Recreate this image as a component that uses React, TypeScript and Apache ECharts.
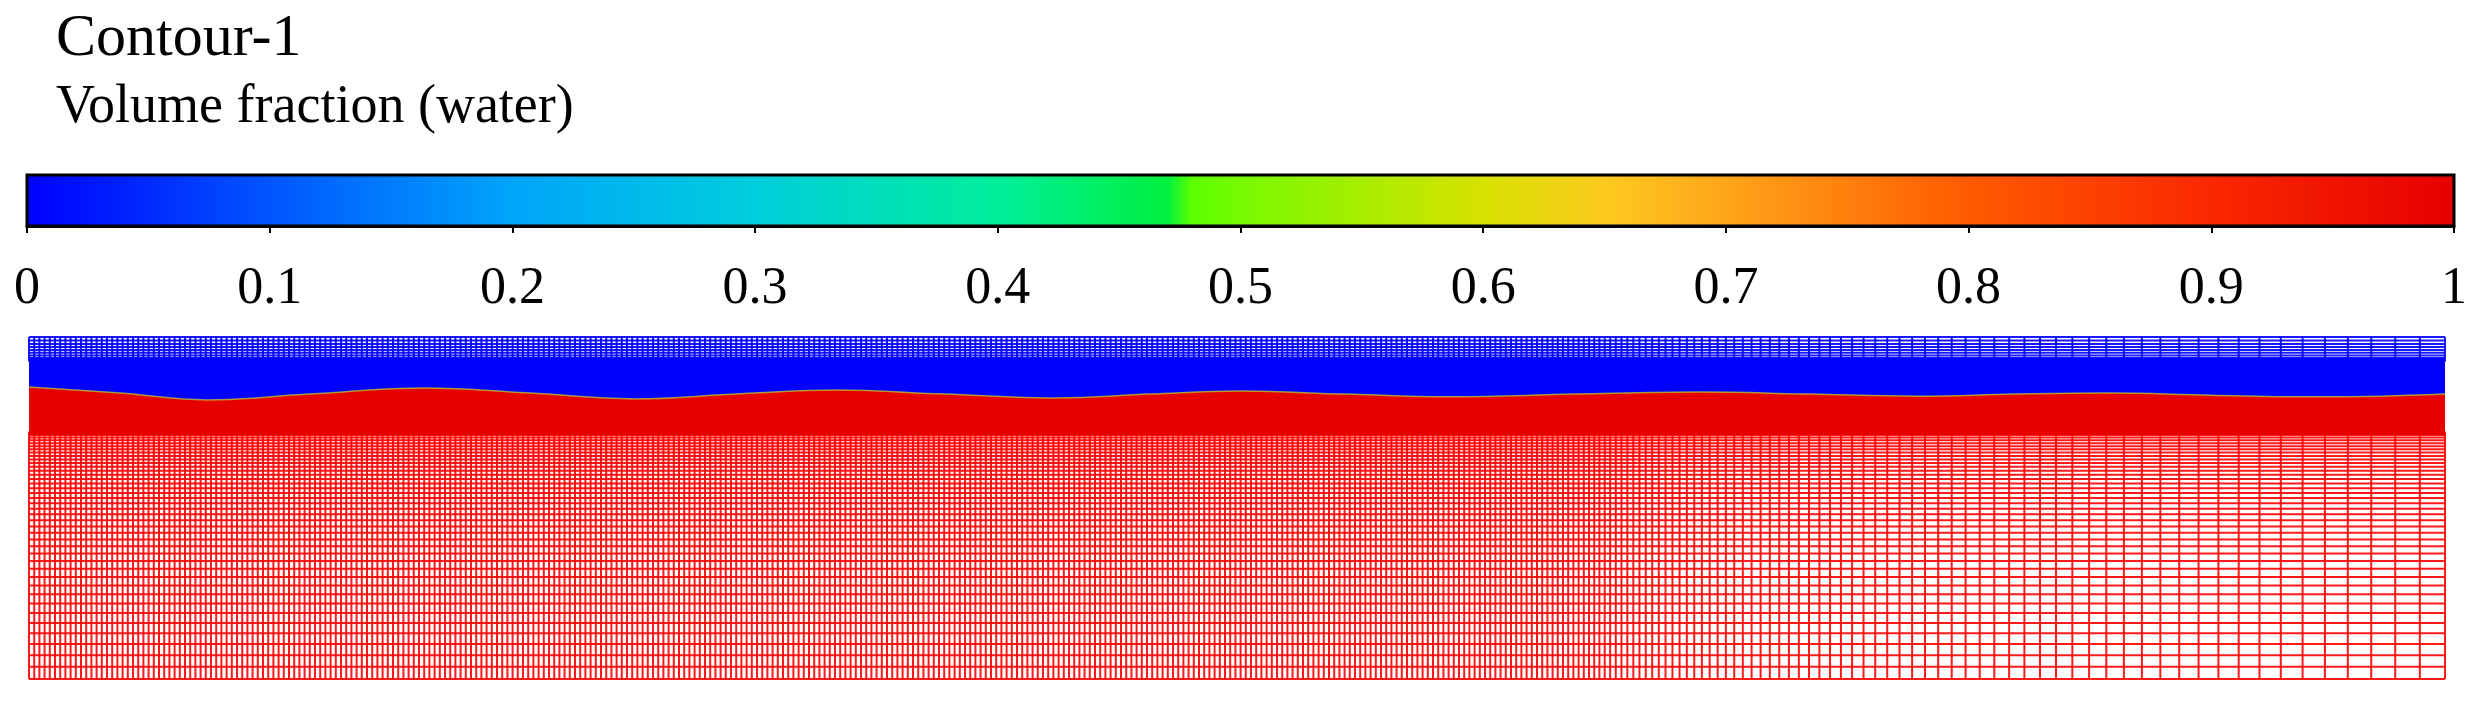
import React, { useEffect, useRef } from "react";
import * as echarts from "echarts";

// ---------- text ----------
const TITLE_LINES = ["Contour-1", "Volume fraction (water)"];

// ---------- colour bar (ANSYS rainbow) ----------
const COLORBAR_TICKS = [0, 0.1, 0.2, 0.3, 0.4, 0.5, 0.6, 0.7, 0.8, 0.9, 1];
const COLORBAR_TICK_LABELS = ["0", "0.1", "0.2", "0.3", "0.4", "0.5", "0.6", "0.7", "0.8", "0.9", "1"];
const COLOR_STOP_POS = [0, 0.1, 0.2, 0.3, 0.4, 0.47, 0.48, 0.5, 0.6, 0.65, 0.7, 0.8, 0.9, 1];
const COLOR_STOP_VAL = [
  "#0000ff", "#0055ff", "#00a5fa", "#00cedc", "#00ee9a", "#00f040", "#5cff00",
  "#78fa00", "#d7e100", "#fcca1e", "#ffa51a", "#ff5a00", "#fa2800", "#e60000",
];

// ---------- free surface (x: 0..100 along tank, y: 0..100 bottom..top) ----------
const interfaceX = [0, 3.77, 7.37, 11.63, 16.39, 20.74, 25.08, 29.22, 33.44, 37.91, 42.47, 46.4, 50.12, 54.47, 58.82, 63.99, 69.16, 73.72, 78.27, 82.2, 86.05, 90.27, 94.49, 97.31, 100];
const interfaceY = [85.4, 83.6, 81.6, 83.3, 85.1, 83.6, 81.9, 83.3, 84.5, 83.3, 82.2, 83.3, 84.2, 83.3, 82.5, 83.3, 83.9, 83.3, 82.7, 83.3, 83.6, 83.0, 82.5, 82.7, 83.3];

// refined (visually solid) band around the free surface
const BAND_BOTTOM = 71.35;
const BAND_TOP = 93.86;

// mesh grading zones: start, end, number of cells, growth ratio
const columnZones = [
  { start: 0, end: 65, cells: 302, ratio: 1 },
  { start: 65, end: 100, cells: 66, ratio: 1.0242 },
];
const lowerRowZones = [{ start: 71.35, end: 0, cells: 39, ratio: 1.041 }];
const upperRowZones = [{ start: 93.86, end: 100, cells: 7, ratio: 1.06 }];

const WATER_RED = "#e60000";
const AIR_BLUE = "#0000ff";
const RED_LINE = "rgba(255,0,0,0.9)";
const BLUE_LINE = "rgba(0,0,255,0.9)";
const MESH_LINE_WIDTH = 2;

function zonePoints(zones: { start: number; end: number; cells: number; ratio: number }[]) {
  const out: number[] = [];
  zones.forEach((z) => {
    const sizes: number[] = [];
    let s = 1;
    let tot = 0;
    for (let i = 0; i < z.cells; i++) {
      sizes.push(s);
      tot += s;
      s *= z.ratio;
    }
    let acc = z.start;
    if (out.length === 0 || Math.abs(out[out.length - 1] - acc) > 1e-9) out.push(acc);
    sizes.forEach((sz) => {
      acc += ((z.end - z.start) * sz) / tot;
      out.push(acc);
    });
  });
  return out;
}

export default function App() {
  const ref = useRef<HTMLDivElement>(null);

  useEffect(() => {
    if (!ref.current) return;
    const chart = echarts.init(ref.current, undefined, { renderer: "svg" });

    const columns = zonePoints(columnZones);
    const lowerRows = zonePoints(lowerRowZones);
    const upperRows = zonePoints(upperRowZones);

    const vLine = (color: string) => (params: any, api: any) => {
      const p0 = api.coord([api.value(0), api.value(1)]);
      const p1 = api.coord([api.value(0), api.value(2)]);
      return {
        type: "line",
        shape: { x1: p0[0], y1: p0[1], x2: p1[0], y2: p1[1] },
        style: { stroke: color, lineWidth: MESH_LINE_WIDTH },
      };
    };
    const hLine = (color: string) => (params: any, api: any) => {
      const p0 = api.coord([api.value(1), api.value(0)]);
      const p1 = api.coord([api.value(2), api.value(0)]);
      return {
        type: "line",
        shape: { x1: p0[0], y1: p0[1], x2: p1[0], y2: p1[1] },
        style: { stroke: color, lineWidth: MESH_LINE_WIDTH },
      };
    };

    const stops = COLOR_STOP_POS.map((p, i) => ({ offset: p, color: COLOR_STOP_VAL[i] }));
    const serif = '"Liberation Serif", "Times New Roman", serif';

    const option: any = {
      animation: false,
      backgroundColor: "#ffffff",
      grid: [
        { left: 29, top: 337, width: 2416, height: 342, containLabel: false },
        { left: 27, top: 175, width: 2427, height: 51, containLabel: false },
      ],
      xAxis: [
        { gridIndex: 0, type: "value", min: 0, max: 100, show: false },
        {
          gridIndex: 1,
          type: "value",
          min: 0,
          max: 1,
          interval: 0.1,
          position: "bottom",
          axisLine: { show: true, lineStyle: { color: "#000", width: 3 } },
          axisTick: { show: true, length: 7, inside: false, lineStyle: { color: "#000", width: 2 } },
          splitLine: { show: false },
          axisLabel: {
            fontFamily: serif,
            fontSize: 52,
            color: "#000",
            margin: 33,
            formatter: (v: number) => {
              const i = COLORBAR_TICKS.findIndex((t) => Math.abs(t - v) < 1e-6);
              return i >= 0 ? COLORBAR_TICK_LABELS[i] : "";
            },
          },
        },
      ],
      yAxis: [
        { gridIndex: 0, type: "value", min: 0, max: 100, show: false },
        { gridIndex: 1, type: "value", min: 0, max: 1, show: false },
      ],
      graphic: [
        {
          type: "text",
          x: 56,
          y: 35,
          style: { text: TITLE_LINES[0], font: `60px ${serif}`, fill: "#000", verticalAlign: "middle" },
        },
        {
          type: "text",
          x: 56,
          y: 103.6,
          style: { text: TITLE_LINES[1], font: `54px ${serif}`, fill: "#000", verticalAlign: "middle" },
        },
      ],
      series: [
        {
          name: "mesh-lower-v",
          type: "custom",
          xAxisIndex: 0,
          yAxisIndex: 0,
          z: 1,
          renderItem: vLine(RED_LINE),
          data: columns.map((x) => [x, 0, BAND_BOTTOM + 1]),
          silent: true,
        },
        {
          name: "mesh-upper-v",
          type: "custom",
          xAxisIndex: 0,
          yAxisIndex: 0,
          z: 1,
          renderItem: vLine(BLUE_LINE),
          data: columns.map((x) => [x, BAND_TOP - 1, 100]),
          silent: true,
        },
        {
          name: "mesh-lower-h",
          type: "custom",
          xAxisIndex: 0,
          yAxisIndex: 0,
          z: 1,
          renderItem: hLine(RED_LINE),
          data: lowerRows.map((y) => [y, 0, 100]),
          silent: true,
        },
        {
          name: "mesh-upper-h",
          type: "custom",
          xAxisIndex: 0,
          yAxisIndex: 0,
          z: 1,
          renderItem: hLine(BLUE_LINE),
          data: upperRows.map((y) => [y, 0, 100]),
          silent: true,
        },
        {
          name: "air",
          type: "custom",
          xAxisIndex: 0,
          yAxisIndex: 0,
          z: 2,
          renderItem: (params: any, api: any) => {
            const p0 = api.coord([api.value(0), api.value(3)]);
            const p1 = api.coord([api.value(2), api.value(1)]);
            return {
              type: "rect",
              shape: { x: p0[0], y: p0[1], width: p1[0] - p0[0], height: p1[1] - p0[1] },
              style: { fill: AIR_BLUE },
            };
          },
          data: [[0, BAND_BOTTOM, 100, BAND_TOP]],
          silent: true,
        },
        {
          name: "water",
          type: "line",
          xAxisIndex: 0,
          yAxisIndex: 0,
          z: 3,
          smooth: 0.4,
          showSymbol: false,
          symbol: "none",
          lineStyle: { color: "rgba(190,200,40,0.75)", width: 1.5 },
          areaStyle: { origin: BAND_BOTTOM, color: WATER_RED, opacity: 1 },
          data: interfaceX.map((x, i) => [x, interfaceY[i]]),
          silent: true,
        },
        {
          name: "colorbar",
          type: "custom",
          xAxisIndex: 1,
          yAxisIndex: 1,
          z: 4,
          renderItem: (params: any, api: any) => {
            const p0 = api.coord([api.value(0), api.value(1)]);
            const p1 = api.coord([api.value(2), api.value(3)]);
            return {
              type: "rect",
              shape: { x: p0[0], y: p0[1], width: p1[0] - p0[0], height: p1[1] - p0[1] },
              style: {
                fill: new echarts.graphic.LinearGradient(0, 0, 1, 0, stops),
                stroke: "#000",
                lineWidth: 3,
              },
            };
          },
          data: [[0, 1, 1, 0]],
          silent: true,
        },
      ],
    };

    chart.setOption(option);
    return () => chart.dispose();
  }, []);

  return (
    <div
      ref={ref}
      style={{ position: "absolute", left: 0, top: 0, width: 2490, height: 702, background: "#fff" }}
    />
  );
}
